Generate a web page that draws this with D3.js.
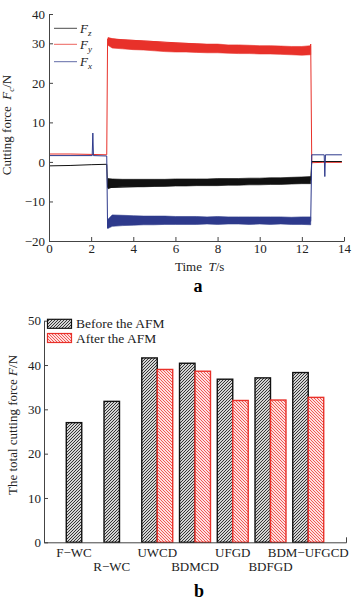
<!DOCTYPE html>
<html><head><meta charset="utf-8">
<script src="https://cdn.jsdelivr.net/npm/d3@7"></script>
<style>
body{margin:0;background:#fff;}
svg{display:block;font-family:"Liberation Serif","Times New Roman",serif;}
</style></head>
<body><svg id="c" width="358" height="601"></svg>
<script>
// ---------- Chart a data ----------
const aTicksY = [-20,-10,0,10,20,30,40];
const aTicksX = [0,2,4,6,8,10,12,14];
const legendA = ["z","y","x"];
// thin traces (time, value)
const FyT = [0,1,2,2.74,2.78,12.38,12.42,12.47,13,13.9];
const FyV = [2.0,2.0,1.9,1.8,31.5,28.2,29.8,-0.2,-0.1,-0.1];
const FzT = [0,1,2,2.74,2.78,12.42,12.47,13,13.9];
const FzV = [-1.0,-0.9,-0.7,-0.6,-6.5,-4.6,0.1,0.1,0.1];
const FxT = [0,2.05,2.08,2.11,2.74,2.78,2.8,12.42,12.47,13.06,13.09,13.12,13.9];
const FxV = [1.6,1.6,7.3,1.6,1.5,-16.8,-15,-15,1.8,1.8,-3.7,1.8,1.8];
// noisy cutting band envelopes
const bandT = [2.8,3.0,3.5,4,4.5,5,5.5,6,6.5,7,7.5,8,8.5,9,9.5,10,10.5,11,11.5,12,12.42];
const FyHi = [32.0,31.6,31.2,31.0,30.8,30.6,30.3,30.1,30.0,29.9,29.8,29.8,29.6,29.6,29.5,29.4,29.4,29.3,29.2,29.2,29.4];
const FyLo = [29.5,28.8,28.6,28.4,28.3,28.1,27.9,27.8,27.8,27.7,27.6,27.6,27.5,27.4,27.4,27.3,27.3,27.2,27.1,27.0,27.1];
const FzHi = [-4.2,-4.3,-4.4,-4.4,-4.4,-4.4,-4.4,-4.3,-4.3,-4.3,-4.3,-4.2,-4.2,-4.2,-4.1,-4.1,-4.0,-4.0,-3.9,-3.8,-3.7];
const FzLo = [-6.8,-6.4,-6.3,-6.3,-6.3,-6.2,-6.2,-6.1,-6.1,-6.0,-6.0,-6.0,-5.9,-5.9,-5.8,-5.8,-5.7,-5.7,-5.6,-5.5,-5.5];
const FxHi = [-14.5,-13.4,-13.5,-13.6,-13.7,-13.7,-13.7,-13.8,-13.8,-13.8,-13.9,-13.8,-13.9,-13.9,-13.9,-13.9,-13.9,-13.9,-14.0,-13.9,-13.9];
const FxLo = [-16.8,-16.3,-16.1,-16.0,-15.9,-15.9,-15.8,-15.8,-15.8,-15.8,-15.7,-15.8,-15.7,-15.7,-15.8,-15.7,-15.8,-15.7,-15.8,-15.8,-15.9];

// ---------- Chart b data ----------
const categories = ["F\u2212WC","R\u2212WC","UWCD","BDMCD","UFGD","BDFGD","BDM\u2212UFGCD"];
const beforeAFM = [27.0,31.8,41.6,40.4,36.8,37.1,38.3];
const afterAFM  = [null,null,39.0,38.6,32.0,32.1,32.7];
const bTicksY = [0,10,20,30,40,50];
const seriesNames = ["Before the AFM","After the AFM"];

const RED="#e8312a", BLUE="#2e3a8c", BLACK="#111";
const svg = d3.select("#c");

// patterns
const defs = svg.append("defs");
const pk = defs.append("pattern").attr("id","hk").attr("patternUnits","userSpaceOnUse").attr("width",3).attr("height",3);
pk.append("rect").attr("width",3).attr("height",3).attr("fill","#d4d4d4");
pk.append("path").attr("d","M-1,1 l2,-2 M0,3 l3,-3 M2,4 l2,-2").attr("stroke","#222").attr("stroke-width",0.9);
const pr = defs.append("pattern").attr("id","hr").attr("patternUnits","userSpaceOnUse").attr("width",3).attr("height",3);
pr.append("rect").attr("width",3).attr("height",3).attr("fill","#fde0e0");
pr.append("path").attr("d","M-1,2 l2,2 M0,0 l3,3 M2,-1 l2,2").attr("stroke","#ef4a44").attr("stroke-width",0.9);

// ================= Chart a =================
const xa = d3.scaleLinear().domain([0,14]).range([49,344]);
const ya = d3.scaleLinear().domain([-20,30,40]).range([241,43.3,14]);
const ga = svg.append("g");

function drawSeries(T,V,Hi,Lo,color){
  const area = d3.area().x((d,i)=>xa(bandT[i])).y0((d,i)=>ya(Lo[i])).y1((d,i)=>ya(Hi[i]));
  ga.append("path").attr("d",area(bandT)).attr("fill",color).attr("stroke",color).attr("stroke-width",0.6);
  const line = d3.line().x((d,i)=>xa(T[i])).y((d,i)=>ya(V[i]));
  ga.append("path").attr("d",line(T)).attr("fill","none").attr("stroke",color).attr("stroke-width",1);
}
drawSeries(FyT,FyV,FyHi,FyLo,RED);
drawSeries(FzT,FzV,FzHi,FzLo,BLACK);
drawSeries(FxT,FxV,FxHi,FxLo,BLUE);

const axYa = ga.append("g").attr("transform","translate(49,0)")
  .call(d3.axisLeft(ya).tickValues(aTicksY).tickSize(-4).tickSizeOuter(0).tickPadding(4));
const axXa = ga.append("g").attr("transform","translate(0,241)")
  .call(d3.axisBottom(xa).tickValues(aTicksX).tickSize(-4).tickSizeOuter(0).tickPadding(3));
[axYa,axXa].forEach(g=>{
  g.selectAll("text").attr("font-family","Liberation Serif").attr("font-size",13).attr("fill","#222");
  g.selectAll("path,line").attr("stroke","#444").attr("stroke-width",1);
});

// legend a
const legColors=[BLACK,RED,BLUE];
const legY=[28.3,44.3,61.7];
legendA.forEach((s,i)=>{
  ga.append("line").attr("x1",54).attr("x2",77).attr("y1",legY[i]).attr("y2",legY[i])
    .attr("stroke",legColors[i]).attr("stroke-width",1).attr("opacity",0.75);
  const t=ga.append("text").attr("x",80).attr("y",legY[i]+4.5).attr("font-size",13).attr("fill","#222");
  t.append("tspan").attr("font-style","italic").text("F");
  t.append("tspan").attr("font-style","italic").attr("font-size",9).attr("dy",3).text(s);
});

// axis labels a
const yla = ga.append("text").attr("transform","translate(11,125) rotate(-90)").attr("text-anchor","middle").attr("font-size",13).attr("fill","#222");
yla.append("tspan").text("Cutting force\u00a0\u00a0");
yla.append("tspan").attr("font-style","italic").text("F");
yla.append("tspan").attr("font-style","italic").attr("font-size",9).attr("dy",3).text("c");
yla.append("tspan").attr("dy",-3).text("/N");
const xla = ga.append("text").attr("x",175).attr("y",270.5).attr("font-size",13).attr("fill","#222");
xla.append("tspan").text("Time\u00a0\u00a0");
xla.append("tspan").attr("font-style","italic").text("T");
xla.append("tspan").text("/s");
ga.append("text").attr("x",198).attr("y",291.5).attr("text-anchor","middle").attr("font-size",18).attr("font-weight","bold").text("a");

// ================= Chart b =================
const gb = svg.append("g");
const yb = d3.scaleLinear().domain([0,50]).range([542.3,320.7]);
const xb = d3.scaleBand().domain(categories).range([44,346]).paddingInner(0.18).paddingOuter(0.59);
const bw = xb.bandwidth()/2;

categories.forEach((c,i)=>{
  gb.append("rect").attr("x",xb(c)).attr("y",yb(beforeAFM[i])).attr("width",bw).attr("height",yb(0)-yb(beforeAFM[i]))
    .attr("fill","url(#hk)").attr("stroke",BLACK).attr("stroke-width",1.4);
  if(afterAFM[i]!=null){
    gb.append("rect").attr("x",xb(c)+bw).attr("y",yb(afterAFM[i])).attr("width",bw).attr("height",yb(0)-yb(afterAFM[i]))
      .attr("fill","url(#hr)").attr("stroke",RED).attr("stroke-width",1.4);
  }
  const cx = afterAFM[i]!=null ? xb(c)+bw : xb(c)+bw/2;
  gb.append("text").attr("x",cx).attr("y",i%2===0?557:571).attr("text-anchor","middle")
    .attr("font-size",13).attr("fill","#222").text(c);
});

const axYb = gb.append("g").attr("transform","translate(44,0)")
  .call(d3.axisLeft(yb).tickValues(bTicksY).tickSize(-4).tickSizeOuter(0).tickPadding(3));
const axXb = gb.append("g").attr("transform","translate(0,542.3)")
  .call(d3.axisBottom(xb).tickValues([]).tickSizeOuter(-5));
[axYb,axXb].forEach(g=>{
  g.selectAll("text").attr("font-family","Liberation Serif").attr("font-size",13).attr("fill","#222");
  g.selectAll("path,line").attr("stroke","#444").attr("stroke-width",1);
});

// legend b
seriesNames.forEach((s,i)=>{
  const y0 = [319.3,333.5][i];
  gb.append("rect").attr("x",47.5).attr("y",y0).attr("width",24).attr("height",9)
    .attr("fill",i===0?"url(#hk)":"url(#hr)").attr("stroke",i===0?BLACK:RED).attr("stroke-width",1.2);
  gb.append("text").attr("x",76).attr("y",y0+9).attr("font-size",13.5).attr("fill","#222").text(s);
});

const ylb = gb.append("text").attr("transform","translate(16.5,425) rotate(-90)").attr("text-anchor","middle").attr("font-size",13).attr("fill","#222");
ylb.append("tspan").text("The total cutting force ");
ylb.append("tspan").attr("font-style","italic").text("F");
ylb.append("tspan").text("/N");
gb.append("text").attr("x",199).attr("y",596.5).attr("text-anchor","middle").attr("font-size",18).attr("font-weight","bold").text("b");
</script></body></html>
